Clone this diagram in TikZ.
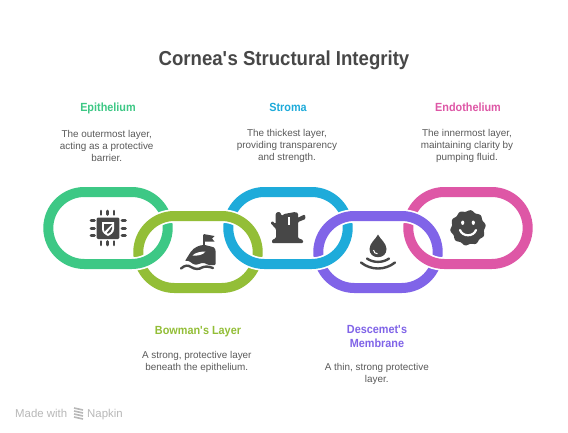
\documentclass[tikz,border=0pt]{standalone}
\usepackage{fontspec}
\setmainfont{Liberation Sans}
\newfontfamily\headfont[FakeStretch=0.92]{Liberation Sans}
\definecolor{cgreen}{HTML}{3DC885}
\definecolor{colive}{HTML}{93BE37}
\definecolor{cblue}{HTML}{1EABDA}
\definecolor{cpurple}{HTML}{8064E8}
\definecolor{cpink}{HTML}{DE57A6}
\definecolor{cdark}{HTML}{474747}
\definecolor{cbody}{HTML}{5A5A5A}
\definecolor{cmark}{HTML}{B8B8B8}
\tikzset{
  ringline/.style={line width=10pt},
  casing/.style={line width=13.4pt,white},
  heading/.style={font=\headfont\bfseries\fontsize{11.8}{13.6}\selectfont,align=center},
  bodytext/.style={font=\fontsize{9.9}{12}\selectfont,align=center,text=cbody},
  icon/.style={fill=cdark,draw=none},
  hole/.style={fill=white,draw=none},
}
\newcommand{\ringat}[3]{\draw[#3] (#1-23.7,#2-36) -- (#1+23.7,#2-36) arc[start angle=90,end angle=-90,radius=36pt] -- (#1-23.7,#2+36) arc[start angle=-90,end angle=-270,radius=36pt] -- cycle;}
\begin{document}
\begin{tikzpicture}[x=1pt,y=-1pt]
\useasboundingbox (0,0) rectangle (568,432);
\fill[white] (0,0) rectangle (568,432);
% lower rings, whole
\ringat{198}{252}{ringline,colive}
\ringat{378}{252}{ringline,cpurple}
% upper rings, over the lower ones
\foreach \cx/\col in {108/cgreen,288/cblue,468/cpink}{
  \ringat{\cx}{228}{casing}
  \ringat{\cx}{228}{ringline,\col}
}
% top halves of the lower rings, over the upper ones
\begin{scope}
  \clip (0,0) rectangle (568,240);
  \ringat{198}{252}{casing}
  \ringat{198}{252}{ringline,colive}
  \ringat{378}{252}{casing}
  \ringat{378}{252}{ringline,cpurple}
\end{scope}

% chip icon
\fill[icon,rounded corners=1.2pt] (96.7,217.5) rectangle (119.3,239);
\foreach \x in {101,107.5,114}{
  \draw[cdark,line width=2.6pt,line cap=round] (\x,211) -- (\x,214.5);
  \draw[cdark,line width=2.6pt,line cap=round] (\x,241.5) -- (\x,245);
}
\foreach \y in {220.7,228.2,235.7}{
  \draw[cdark,line width=2.6pt,line cap=round] (91,\y) -- (94.5,\y);
  \draw[cdark,line width=2.6pt,line cap=round] (122,\y) -- (125.5,\y);
}
\fill[hole] (102,222) -- (114,222) -- (114,229) .. controls (114,233) and (110,235) .. (108,236) .. controls (106,235) and (102,233) .. (102,229) -- cycle;
\fill[icon] (104,224) -- (112,224) -- (104.5,231.5) .. controls (104,230.5) and (104,229.5) .. (104,228.5) -- cycle;
\fill[icon] (112,226.5) -- (112,228.8) .. controls (112,231) and (110,232.7) .. (108,233.7) -- (106.8,233) -- cycle;

% island icon
\fill[icon,rounded corners=1pt] (185,261) -- (190,253) .. controls (194,247) and (200,245) .. (205,245) -- (213,247) .. controls (215,248) and (215.5,250) .. (215.5,252) -- (215.5,265) -- (208,265) .. controls (203,261) and (199,264.5) .. (196,264.5) .. controls (192,264.5) and (190,260) .. (185,261) -- cycle;
\fill[hole] (192.5,255.5) .. controls (195,252.5) and (201,251.5) .. (205.5,251.5) .. controls (203,255) and (198,256) .. (192.5,255.5) -- cycle;
\draw[cdark,line width=2pt] (203.5,247) -- (203.5,235);
\fill[icon] (203.5,234) -- (214.5,236) -- (212,238.5) -- (214.5,241.5) -- (203.5,241.5) -- cycle;
\draw[cdark,line width=2.4pt,line cap=round] (181,268.5) .. controls (185,265) and (188,265) .. (191,267) .. controls (195,269.5) and (199,269.5) .. (202,267.5) .. controls (205,266) and (209,266.5) .. (213,268);

% stump icon
\fill[icon,rounded corners=1pt] (275.5,214) -- (277,212) -- (280,212) -- (282,216) -- (284,214) -- (295,212) -- (298,213) -- (298,218) -- (301,216) -- (305,214.5) -- (305.5,219) -- (298,222) -- (298,238) -- (303,240) -- (303,243) -- (272,243) -- (272,240) -- (276,238) -- (276,229) -- (270.5,223) -- (272.5,221) -- (275.5,224) -- cycle;
\fill[hole] (288,216.5) rectangle (290,225);

% drop icon
\fill[icon] (378,234.5) .. controls (380,239) and (386.5,243) .. (386.5,249) .. controls (386.5,254) and (383,257.2) .. (378,257.2) .. controls (373,257.2) and (369.5,254) .. (369.5,249) .. controls (369.5,243) and (376,239) .. (378,234.5) -- cycle;
\draw[white,line width=1pt] (373.5,250) .. controls (373.7,252.5) and (375.5,253.7) .. (377.5,253.8);
\draw[cdark,line width=2.4pt,line cap=round] (367,258.5) .. controls (373,263) and (383,263) .. (389,258.5);
\draw[cdark,line width=2.4pt,line cap=round] (361,262.5) .. controls (371,270.5) and (385,270.5) .. (395,262.5);

% badge icon
\fill[icon] plot[smooth,samples=81,domain=0:360] ({468+(17+0.8*cos(10*\x+90))*cos(\x)},{227.8+(17+0.8*cos(10*\x+90))*sin(\x)}) -- cycle;
\fill[hole] (462.7,222.7) ellipse (1.6pt and 2.2pt);
\fill[hole] (473.3,222.7) ellipse (1.6pt and 2.2pt);
\draw[white,line width=2.2pt,line cap=round] (460,230) .. controls (462.5,237) and (473.5,237) .. (476,230);

% texts
\node[font=\headfont\bfseries\fontsize{20.2}{22}\selectfont,text=cdark] (title) at (284,60.6) {Cornea\textquotesingle s Structural Integrity};
\node[heading,text=cgreen,anchor=base] (h1) at (108,111.5) {Epithelium};
\node[bodytext] (b1) at (106.7,145.7) {The outermost layer,\\acting as a protective\\barrier.};
\node[heading,text=cblue,anchor=base] (h3) at (288,111.5) {Stroma};
\node[bodytext] (b3) at (287,145.7) {The thickest layer,\\providing transparency\\and strength.};
\node[heading,text=cpink,anchor=base] (h5) at (468,111.5) {Endothelium};
\node[bodytext] (b5) at (467,145.7) {The innermost layer,\\maintaining clarity by\\pumping fluid.};
\node[heading,text=colive,anchor=base] (h2) at (198,334) {Bowman\textquotesingle s Layer};
\node[bodytext] (b2) at (196.8,361.7) {A strong, protective layer\\beneath the epithelium.};
\node[heading,text=cpurple] (h4) at (377,336.5) {Descemet\textquotesingle s\\Membrane};
\node[bodytext] (b4) at (376.8,373.7) {A thin, strong protective\\layer.};

% footer
\node[font=\fontsize{11.4}{13}\selectfont,text=cmark,anchor=base west,inner sep=0pt] (made) at (15,417) {Made with};
\foreach \y in {408,411,414,417}{
  \draw[cmark,line width=1.6pt] (74,\y) -- (83,\y+2);
}
\node[font=\fontsize{11.4}{13}\selectfont,text=cmark,anchor=base west,inner sep=0pt] (napkin) at (87,417) {Napkin};
\end{tikzpicture}
\end{document}
